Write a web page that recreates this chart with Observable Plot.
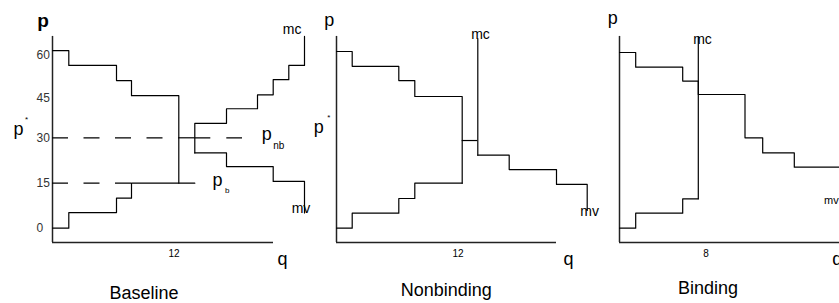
<!DOCTYPE html>
<html><head><meta charset="utf-8">
<script src="https://cdn.jsdelivr.net/npm/d3@7"></script>
<script src="https://cdn.jsdelivr.net/npm/@observablehq/plot@0.6"></script>
<style>
html,body{margin:0;padding:0;background:#fff;overflow:hidden;}
#wrap{position:relative;width:839px;height:303px;overflow:hidden;}
#wrap svg{position:absolute;top:0;overflow:visible;}
</style></head><body><div id="wrap"></div>
<script>
// ---- shared axis values ----
const yTicks = [0, 15, 30, 45, 60];
const pStar = 30;          // p* (= p_nb)
const pBind = 15;          // p_b
const axisTop = 66.7, axisBottom = -4.8;

// ---- Baseline ----
const baseSupplyQ = [0, 1.63, 6.4, 7.9, 14.23];
const baseSupplyP = [0, 5.2, 10, 15, 15];
const baseDemandQ = [0, 1.63, 6.4, 7.9, 12.63];
const baseDemandP = [61.7, 56.5, 51.2, 45.9, 15];
const baseMcQ = [14.23, 14.23, 17.4, 20.5, 22.07, 23.63, 25.2];
const baseMcP = [25.0, 35.5, 41.0, 46.2, 51.5, 56.5, 66.7];
const baseMvQ = [14.23, 17.4, 22.07, 25.2];
const baseMvP = [25.0, 20.5, 15.6, 5.1];
const baseNbDashEnd = 19.0;
const baseQTick = 12, baseQEnd = 22.1;

// ---- Nonbinding ----
const nbSupplyQ = [0, 1.57, 6.23, 7.83, 12.57];
const nbSupplyP = [0, 5, 9.9, 15, 15];
const nbDemandQ = [0, 1.57, 6.23, 7.83, 12.57];
const nbDemandP = [61.4, 56.2, 51.2, 45.6, 15];
const nbLinkP = 29.1;
const nbMcQ = [14.13, 14.13];
const nbMcP = [24.25, 65.9];
const nbMvQ = [14.13, 17.27, 22.0, 25.07];
const nbMvP = [24.25, 19.5, 14.6, 5.9];
const nbQTick = 12, nbQEnd = 22.0;

// ---- Binding ----
const bSupplyQ = [0, 1.62, 6.32, 7.88];
const bSupplyP = [0, 5, 9.8, 9.8];
const bMcQ = [7.88, 7.88];
const bMcP = [9.8, 66.5];
const bDemandQ = [0, 1.62, 6.32, 7.88, 12.55, 14.32, 17.48, 24];
const bDemandP = [61.05, 55.9, 51.0, 46.3, 30, 25, 20.3, 20.3];
const bQTick = 8, bQEnd = 23;

const pts = (qs, ps) => qs.map((q, i) => ({q, p: ps[i]}));
const FONT = "'Liberation Sans', Arial, Helvetica, sans-serif";

function lab(text, x, y, dx, dy, size, extra = {}) {
  return Plot.text([text], {x: () => x, y: () => y, text: d => d, dx, dy, fontSize: size, fill: "#000", ...extra});
}
function flab(text, dx, dy, size) {
  return Plot.text([text], {frameAnchor: "bottom-left", textAnchor: "middle", lineAnchor: "middle",
    text: d => d, dx, dy, fontSize: size, fill: "#000"});
}

function makePanel(cfg) {
  const lineOpts = {x: "q", y: "p", curve: "step-after", stroke: "#000", strokeWidth: 1.2};
  const marks = [
    Plot.ruleX([0], {y1: axisBottom, y2: axisTop, stroke: "#222", strokeWidth: 1.5}),
    Plot.ruleY([axisBottom], {x1: 0, x2: cfg.qEnd, stroke: "#222", strokeWidth: 1.5}),
    ...cfg.curves.map(([qs, ps]) => Plot.line(pts(qs, ps), lineOpts)),
    ...(cfg.extra || []),
    ...cfg.labels
  ];
  return Plot.plot({
    width: 330, height: 303,
    marginLeft: 52, marginRight: 0, marginTop: 0, marginBottom: 0,
    x: {domain: [0, 27.8], axis: null},
    y: {type: "linear", domain: yTicks, range: [227.7, 182.7, 137.3, 97.7, 55], axis: null},
    style: {fontFamily: FONT, background: "transparent", overflow: "visible"},
    marks
  });
}

const panels = [
  {
    left: 0, qEnd: baseQEnd,
    curves: [[baseSupplyQ, baseSupplyP], [baseDemandQ, baseDemandP], [baseMcQ, baseMcP], [baseMvQ, baseMvP]],
    extra: [
      Plot.ruleY([pStar], {x1: 0, x2: baseDemandQ.at(-1), stroke: "#000", strokeWidth: 1.2, strokeDasharray: "16,15.5"}),
      Plot.ruleY([pStar], {x1: baseDemandQ.at(-1), x2: baseMcQ[0], stroke: "#000", strokeWidth: 1.2}),
      Plot.ruleY([pStar], {x1: baseMcQ[0], x2: baseNbDashEnd, stroke: "#000", strokeWidth: 1.2, strokeDasharray: "16,16"}),
      Plot.ruleY([pBind], {x1: 0, x2: baseSupplyQ[3], stroke: "#000", strokeWidth: 1.2, strokeDasharray: "16,15.5"}),
      Plot.text(yTicks, {y: d => d, text: d => String(d), frameAnchor: "left", dx: -16, textAnchor: "start", fontSize: 12, fill: "#333"})
    ],
    labels: [
      lab("p", 0, axisTop, -9.5, -15.2, 19, {fontWeight: "bold"}),
      lab("p", 0, pStar, -34, -8.6, 18),
      lab("*", 0, pStar, -26, -18.3, 8),
      lab("mc", baseMcQ.at(-1), baseMcP.at(-1), -12.3, -6.5, 14),
      lab("mv", baseMvQ.at(-1), baseMvP.at(-1), -3.5, -4.6, 14),
      lab("p", baseNbDashEnd, pStar, 24.3, -3.6, 18),
      lab("nb", baseNbDashEnd, pStar, 36.3, 8.1, 10),
      lab("p", baseSupplyQ.at(-1), pBind, 22.7, -3.1, 18),
      lab("b", baseSupplyQ.at(-1), pBind, 32.4, 7.3, 8),
      lab(String(baseQTick), baseQTick, axisBottom, 1.5, 11.5, 10),
      lab("q", baseQEnd, axisBottom, 9, 16.2, 18),
      flab("Baseline", 91.5, -9.8, 18)
    ]
  },
  {
    left: 284, qEnd: nbQEnd,
    curves: [[nbSupplyQ, nbSupplyP], [nbDemandQ, nbDemandP], [nbMcQ, nbMcP], [nbMvQ, nbMvP]],
    extra: [
      Plot.ruleY([nbLinkP], {x1: nbDemandQ.at(-1), x2: nbMcQ[0], stroke: "#000", strokeWidth: 1.2})
    ],
    labels: [
      lab("p", 0, axisTop, -7.2, -16, 18),
      lab("p", 0, pStar, -17.7, -10.4, 18),
      lab("*", 0, pStar, -7.7, -20.3, 8),
      lab("mc", nbMcQ.at(-1), nbMcP.at(-1), 2.7, -3.8, 14),
      lab("mv", nbMvQ.at(-1), nbMvP.at(-1), 2.5, 0.8, 14),
      lab(String(nbQTick), nbQTick, axisBottom, 1.5, 11.5, 10),
      lab("q", nbQEnd, axisBottom, 12, 16.2, 18),
      flab("Nonbinding", 109.8, -12.8, 18)
    ]
  },
  {
    left: 567, qEnd: bQEnd,
    curves: [[bSupplyQ, bSupplyP], [bMcQ, bMcP], [bDemandQ, bDemandP]],
    labels: [
      lab("p", 0, axisTop, -6.8, -17.8, 18),
      lab("mc", bMcQ.at(-1), bMcP.at(-1), 4.2, 2.8, 14),
      lab("mv", bDemandQ.at(-2), bDemandP.at(-2), 37, 33.7, 11),
      lab(String(bQTick), bQTick, axisBottom, 6.5, 11.5, 10),
      lab("q", 0, axisBottom, 217.7, 16.2, 18),
      flab("Binding", 88.5, -14.8, 18)
    ]
  }
];

const wrap = document.getElementById("wrap");
for (const cfg of panels) {
  const svg = makePanel(cfg);
  svg.style.left = cfg.left + "px";
  wrap.appendChild(svg);
}
</script></body></html>
